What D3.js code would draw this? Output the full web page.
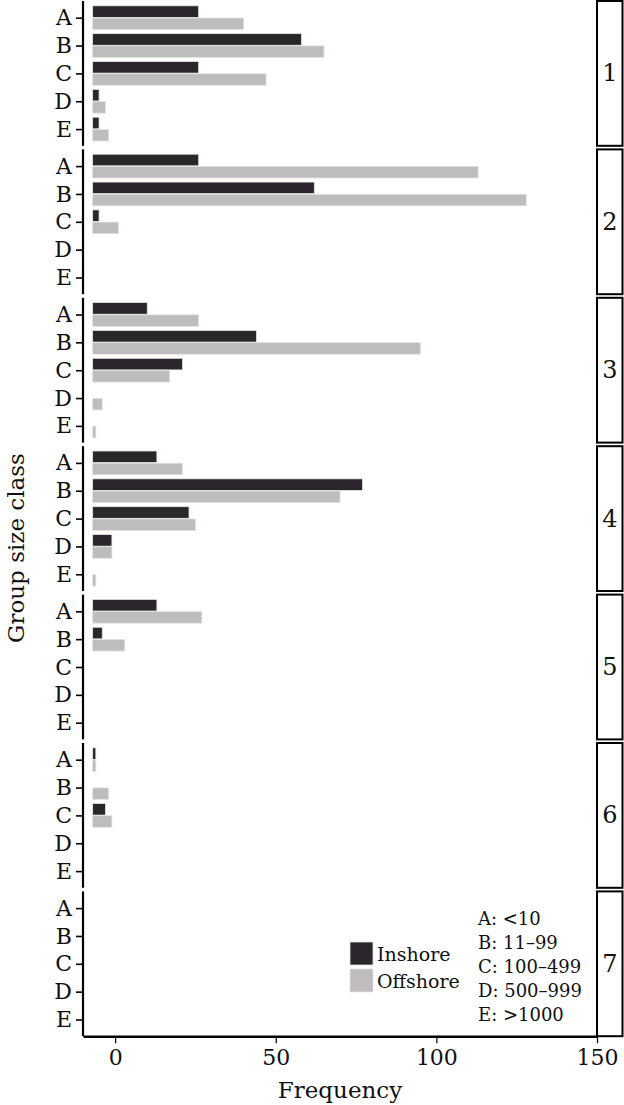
<!DOCTYPE html>
<html><head><meta charset="utf-8">
<script src="https://cdn.jsdelivr.net/npm/d3@7"></script>
<style>body{margin:0;background:#fff}svg{display:block}text{font-family:"DejaVu Serif",serif;fill:#111}</style>
</head><body><svg id="c" width="624" height="1105"></svg>
<script>
const panels = ["1","2","3","4","5","6","7"];
const classes = ["A","B","C","D","E"];
const classLabels = ["A: <10","B: 11\u201399","C: 100\u2013499","D: 500\u2013999","E: >1000"];
const series = ["Inshore","Offshore"];
const inshore = [
  [33,65,33,2,2],
  [33,69,2,0,0],
  [17,51,28,0,0],
  [20,84,30,6,0],
  [20,3,0,0,0],
  [1,0,4,0,0],
  [0,0,0,0,0]
];
const offshore = [
  [47,72,54,4,5],
  [120,135,8,0,0],
  [33,102,24,3,1],
  [28,77,32,6,1],
  [34,10,0,0,0],
  [1,5,6,0,0],
  [0,0,0,0,0]
];
const xTicks = [0,50,100,150];
const barBase = -7;
const colors = {Inshore:"#2a262b", Offshore:"#bfbcbf"};

const svg = d3.select("#c");
const x = d3.scaleLinear().domain([-10,150]).range([83,597]);
const panelStep = 148.4, panelH = 144.8, top0 = 1;

panels.forEach((p,k)=>{
  const t = top0 + k*panelStep;
  const y = d3.scalePoint().domain(classes).range([t, t+panelH]).padding(0.6);
  const g = svg.append("g");
  const bh = 11.6;
  classes.forEach((c,i)=>{
    const vals = [inshore[k][i], offshore[k][i]];
    vals.forEach((v,j)=>{
      if(v<=0) return;
      g.append("rect")
        .attr("x", x(barBase))
        .attr("y", y(c) - bh + j*(bh+0.6) - 0.3)
        .attr("width", x(barBase+v)-x(barBase))
        .attr("height", bh)
        .attr("fill", colors[series[j]])
        .attr("stroke","#e4e4e4").attr("stroke-width",0.8);
    });
  });
  const ax = g.append("g").attr("transform","translate(83,0)")
    .call(d3.axisLeft(y).tickSize(7).tickPadding(4).tickSizeOuter(0));
  ax.select(".domain").attr("stroke","#000").attr("stroke-width",2.2).attr("d",`M0,${t}V${t+panelH}`);
  ax.selectAll(".tick line").attr("stroke","#000").attr("stroke-width",1.6);
  ax.selectAll(".tick text").attr("font-size",22).attr("font-family","DejaVu Serif").attr("fill","#111");
  svg.append("rect").attr("x",597).attr("y",t).attr("width",25.5).attr("height",panelH)
    .attr("fill","#fff").attr("stroke","#000").attr("stroke-width",2);
  svg.append("text").attr("x",610).attr("y",t+panelH/2).attr("text-anchor","middle")
    .attr("dominant-baseline","central").attr("font-size",24).text(p);
});

const bottom = top0 + 6*panelStep + panelH;
const xa = svg.append("g").attr("transform",`translate(0,${bottom})`)
  .call(d3.axisBottom(x).tickValues(xTicks).tickSize(7).tickPadding(6).tickSizeOuter(0));
xa.select(".domain").attr("stroke","#000").attr("stroke-width",2.4);
xa.selectAll(".tick line").attr("stroke","#000").attr("stroke-width",1.2);
xa.selectAll(".tick text").attr("font-size",22).attr("font-family","DejaVu Serif").attr("fill","#111");

svg.append("text").attr("x",340).attr("y",1098).attr("text-anchor","middle").attr("font-size",23).text("Frequency");
svg.append("text").attr("transform","translate(24,548) rotate(-90)").attr("text-anchor","middle").attr("font-size",23).text("Group size class");

const leg = svg.append("g");
series.forEach((s,i)=>{
  const yy = 942 + i*27;
  leg.append("rect").attr("x",350).attr("y",yy).attr("width",23).attr("height",23)
    .attr("fill",colors[s]).attr("stroke","#e4e4e4").attr("stroke-width",0.8);
  leg.append("text").attr("x",377).attr("y",yy+11.5).attr("dominant-baseline","central").attr("font-size",19).text(s);
});
classLabels.forEach((l,i)=>{
  leg.append("text").attr("x",478).attr("y",918+i*24).attr("dominant-baseline","central").attr("font-size",18).text(l);
});
</script></body></html>
